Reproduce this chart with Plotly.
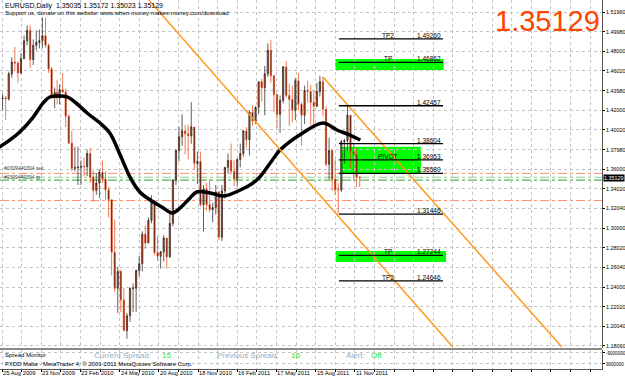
import numpy as np
import pandas as pd
import plotly.graph_objects as go

# ---------------- data ----------------
symbol_header = "EURUSD,Daily  1.35035 1.35172 1.35023 1.35129"
support_text = "Support us, donate on this website: www.when-money-makes-money.com/download"
last_price = 1.35129

week_start = pd.date_range("2009-08-24", periods=118, freq="W-MON")
opens = [1.4320, 1.4325, 1.4315, 1.4570, 1.4690, 1.4680, 1.4580, 1.4725, 1.4906, 1.5012,
         1.4715, 1.4860, 1.4890, 1.4907, 1.4958, 1.4860, 1.4620, 1.4340, 1.4380, 1.4325,
         1.4410, 1.4385, 1.4140, 1.3865, 1.3610, 1.3615, 1.3620, 1.3630, 1.3625, 1.3760,
         1.3520, 1.3385, 1.3460, 1.3570, 1.3500, 1.3390, 1.3290, 1.2755, 1.2390, 1.2560,
         1.2270, 1.1960, 1.2110, 1.2390, 1.2390, 1.2570, 1.2640, 1.2940, 1.2850, 1.3080,
         1.3280, 1.2750, 1.2715, 1.2760, 1.2900, 1.2710, 1.3050, 1.3490, 1.3790, 1.3930,
         1.3990, 1.3960, 1.3940, 1.4030, 1.3660, 1.3680, 1.3240, 1.3400, 1.3240, 1.3190,
         1.3210, 1.3370, 1.2910, 1.3380, 1.3620, 1.3690, 1.3580, 1.3500, 1.3700, 1.3760,
         1.3990, 1.3900, 1.4180, 1.4090, 1.4230, 1.4490, 1.4430, 1.4570, 1.4810, 1.4550,
         1.4360, 1.4160, 1.4300, 1.4640, 1.4350, 1.4310, 1.4200, 1.4500, 1.4260, 1.4150,
         1.4400, 1.4390, 1.4280, 1.4240, 1.4390, 1.4490, 1.4210, 1.3650, 1.3790, 1.3500,
         1.3390, 1.3390, 1.3880, 1.3890, 1.4150, 1.3780, 1.3750, 1.3520]
highs = [1.4370, 1.4345, 1.4590, 1.4740, 1.4844, 1.4700, 1.4780, 1.4960, 1.5062, 1.5065,
         1.4920, 1.5010, 1.5020, 1.5144, 1.5140, 1.4880, 1.4640, 1.4430, 1.4510, 1.4460,
         1.4580, 1.4420, 1.4160, 1.3990, 1.3830, 1.3830, 1.3690, 1.3720, 1.3800, 1.3820,
         1.3590, 1.3560, 1.3600, 1.3690, 1.3580, 1.3420, 1.3290, 1.3090, 1.2610, 1.2580,
         1.2390, 1.2140, 1.2400, 1.2440, 1.2580, 1.2720, 1.2970, 1.3030, 1.3110, 1.3335,
         1.3280, 1.2920, 1.2770, 1.2930, 1.2900, 1.3160, 1.3500, 1.3800, 1.4030, 1.4160,
         1.4050, 1.4050, 1.4282, 1.4030, 1.3780, 1.3780, 1.3440, 1.3460, 1.3500, 1.3260,
         1.3440, 1.3380, 1.3440, 1.3620, 1.3760, 1.3862, 1.3690, 1.3710, 1.3860, 1.4000,
         1.4030, 1.4200, 1.4250, 1.4240, 1.4490, 1.4520, 1.4650, 1.4880, 1.4918, 1.4560,
         1.4370, 1.4350, 1.4650, 1.4700, 1.4470, 1.4450, 1.4530, 1.4580, 1.4280, 1.4450,
         1.4500, 1.4460, 1.4400, 1.4480, 1.4550, 1.4538, 1.4240, 1.3920, 1.3800, 1.3700,
         1.3460, 1.3900, 1.3910, 1.4246, 1.4150, 1.3860, 1.3820, 1.3535]
lows = [1.4200, 1.4100, 1.4300, 1.4530, 1.4600, 1.4480, 1.4570, 1.4720, 1.4860, 1.4630,
        1.4660, 1.4810, 1.4830, 1.4830, 1.4835, 1.4580, 1.4320, 1.4220, 1.4260, 1.4260,
        1.4380, 1.4030, 1.3860, 1.3580, 1.3580, 1.3440, 1.3440, 1.3530, 1.3530, 1.3460,
        1.3270, 1.3340, 1.3310, 1.3460, 1.3290, 1.3110, 1.2520, 1.2350, 1.2140, 1.2150,
        1.1950, 1.1876, 1.2050, 1.2150, 1.2150, 1.2510, 1.2560, 1.2790, 1.2850, 1.3050,
        1.2730, 1.2670, 1.2590, 1.2660, 1.2590, 1.2700, 1.3020, 1.3440, 1.3680, 1.3840,
        1.3750, 1.3700, 1.3860, 1.3600, 1.3450, 1.3220, 1.2969, 1.3180, 1.3160, 1.3060,
        1.3140, 1.2880, 1.2870, 1.3300, 1.3560, 1.3550, 1.3430, 1.3430, 1.3620, 1.3730,
        1.3820, 1.3740, 1.4040, 1.4060, 1.4160, 1.4290, 1.4150, 1.4540, 1.4480, 1.4180,
        1.4020, 1.3970, 1.4270, 1.4330, 1.4040, 1.4080, 1.4100, 1.4200, 1.3840, 1.4060,
        1.4280, 1.4050, 1.4040, 1.4230, 1.4340, 1.4140, 1.3630, 1.3500, 1.3380, 1.3340,
        1.3146, 1.3370, 1.3660, 1.3790, 1.3610, 1.3480, 1.3420, 1.3420]
closes = [1.4325, 1.4315, 1.4570, 1.4690, 1.4680, 1.4580, 1.4725, 1.4906, 1.5012, 1.4715,
          1.4860, 1.4890, 1.4907, 1.4958, 1.4860, 1.4620, 1.4340, 1.4380, 1.4325, 1.4410,
          1.4385, 1.4140, 1.3865, 1.3610, 1.3615, 1.3620, 1.3630, 1.3625, 1.3760, 1.3520,
          1.3385, 1.3460, 1.3570, 1.3500, 1.3390, 1.3290, 1.2755, 1.2390, 1.2560, 1.2270,
          1.1960, 1.2110, 1.2390, 1.2390, 1.2570, 1.2640, 1.2940, 1.2850, 1.3080, 1.3280,
          1.2750, 1.2715, 1.2760, 1.2900, 1.2710, 1.3050, 1.3490, 1.3790, 1.3930, 1.3990,
          1.3960, 1.3940, 1.4030, 1.3660, 1.3680, 1.3240, 1.3400, 1.3240, 1.3190, 1.3210,
          1.3370, 1.2910, 1.3380, 1.3620, 1.3690, 1.3580, 1.3500, 1.3700, 1.3760, 1.3990,
          1.3900, 1.4180, 1.4090, 1.4230, 1.4490, 1.4430, 1.4570, 1.4810, 1.4550, 1.4360,
          1.4160, 1.4300, 1.4640, 1.4350, 1.4310, 1.4200, 1.4500, 1.4260, 1.4150, 1.4400,
          1.4390, 1.4280, 1.4240, 1.4390, 1.4490, 1.4210, 1.3650, 1.3790, 1.3500, 1.3390,
          1.3390, 1.3880, 1.3890, 1.4150, 1.3780, 1.3750, 1.3520, 1.35129]

# moving average (bar number, price)
ma_bars = [-4, 13, 29, 51, 67, 78, 95, 106, 119, 139, 160, 176, 193, 209, 225, 242,
           261, 278, 287, 296, 307, 318, 340, 361, 389, 416, 438, 454, 491, 524, 547, 568, 585]
ma_values = [1.3826, 1.3898, 1.3979, 1.4131, 1.4273, 1.4335, 1.4345, 1.4335, 1.4284, 1.4172,
             1.4070, 1.3969, 1.3745, 1.3521, 1.3369, 1.3288, 1.3216, 1.3155, 1.3186, 1.3237,
             1.3308, 1.3369, 1.3359, 1.3328, 1.3389, 1.3491, 1.3664, 1.3796, 1.3969, 1.4070,
             1.3999, 1.3948, 1.3898]

# trend lines (bar, price) anchors
trend1_bars = [240, 736]
trend1_prices = [1.5321, 1.1793]
trend2_bars = [524, 914]
trend2_prices = [1.4538, 1.1793]

# pivot levels
level_prices = [1.49260, 1.46862, 1.42457, 1.38604, 1.36953, 1.35580, 1.31446, 1.27244, 1.24646]
level_names = ["TP2", "TP", "", "", "PIVOT", "", "", "TP", "TP2"]
level_text = ["1.49260", "1.46862", "1.42457", "1.38604", "1.36953", "1.35580", "1.31446", "1.27244", "1.24646"]

# order lines
order_prices = [1.3558, 1.3519, 1.3490, 1.3282]
order_colors = ["#FF9070", "#8FCF8F", "#2EA02E", "#FF9070"]
order_labels = ["#0309440304 sell", "#0309440304 tp"]

# axis labels
price_ticks = [1.51960, 1.49980, 1.48000, 1.46020, 1.43980, 1.42000, 1.40020, 1.37980, 1.36000,
               1.34020, 1.32040, 1.30000, 1.28020, 1.26040, 1.24000, 1.22020, 1.20040, 1.18060]
date_ticks = ["2009-08-25", "2009-11-23", "2010-02-23", "2010-05-24", "2010-08-20",
              "2010-11-18", "2011-02-16", "2011-05-17", "2011-08-15", "2011-11-11"]
date_labels = ["25 Aug 2009", "23 Nov 2009", "23 Feb 2010", "24 May 2010", "20 Aug 2010",
               "18 Nov 2010", "16 Feb 2011", "17 May 2011", "15 Aug 2011", "11 Nov 2011"]

current_spread = "15"
previous_spread = "16"
alert_state = "Off"

# ---------------- helpers ----------------
holidays = ["2009-12-25", "2010-01-01"]
first_bar = "2009-08-25"


def bar_of(d):
    return int(np.busday_count(first_bar, pd.Timestamp(d).strftime("%Y-%m-%d"), holidays=holidays))


week_x = [bar_of(d) + 2 for d in week_start]
date_tick_x = [bar_of(d) for d in date_ticks]

FONT = "Liberation Sans"
W, H = 625, 379
ML, MR, MT, MB = 0, 23, 0, 10
PW = W - ML - MR
PH = H - MT - MB
main_bottom_px = 348
sub_top_px = 350
main_dom = [(PH - main_bottom_px) / PH, 1]
sub_dom = [0, (PH - sub_top_px) / PH]
px_per_bar = 0.6125
xr = [-2 / px_per_bar, (PW - 2) / px_per_bar]
yr = [1.5196 - (main_bottom_px - 12.3) / 983.5, 1.5196 + 12.3 / 983.5]

fig = go.Figure()

# green rectangles
rects = [(544, 721, 1.4609, 1.4721), (553, 684, 1.3558, 1.3829), (545, 725, 1.2657, 1.2769)]
for x0, x1, y0, y1 in rects:
    fig.add_shape(type="rect", xref="x", yref="y", x0=x0, x1=x1, y0=y0, y1=y1,
                  fillcolor="#00FF00", line=dict(width=0), layer="below")

# order lines (full width dash-dot)
for p, c in zip(order_prices, order_colors):
    fig.add_shape(type="line", xref="paper", yref="y", x0=0, x1=1, y0=p, y1=p,
                  line=dict(color=c, width=1, dash="dashdot"), layer="below")

# candles
fig.add_trace(go.Candlestick(
    x=week_x, open=opens, high=highs, low=lows, close=closes,
    increasing=dict(line=dict(color="#1A1A1A", width=0.7), fillcolor="#FF4A14"),
    decreasing=dict(line=dict(color="#E8400C", width=0.7), fillcolor="#141414"),
    whiskerwidth=0, showlegend=False, hoverinfo="skip", yaxis="y", xaxis="x"))

# moving average
fig.add_trace(go.Scatter(x=ma_bars, y=ma_values, mode="lines",
                         line=dict(color="black", width=3.5, shape="spline", smoothing=1.0),
                         showlegend=False, hoverinfo="skip", yaxis="y", xaxis="x"))

# trend lines
for bx, py in [(trend1_bars, trend1_prices), (trend2_bars, trend2_prices)]:
    fig.add_trace(go.Scatter(x=bx, y=py, mode="lines", line=dict(color="#FF9A1E", width=1.5),
                             showlegend=False, hoverinfo="skip", yaxis="y", xaxis="x"))

# level lines + labels
for p, name, txt in zip(level_prices, level_names, level_text):
    fig.add_trace(go.Scatter(x=[550, 720], y=[p, p], mode="lines", line=dict(color="black", width=1.3),
                             showlegend=False, hoverinfo="skip", yaxis="y", xaxis="x"))
    if name:
        fig.add_annotation(x=630, y=p, xref="x", yref="y", text=name, showarrow=False,
                           xanchor="center", yanchor="bottom", yshift=-2,
                           font=dict(family=FONT, size=6.5, color="black"))
    fig.add_annotation(x=720, y=p, xref="x", yref="y", text=txt, showarrow=False,
                       xanchor="right", yanchor="bottom", yshift=-2,
                       font=dict(family=FONT, size=6.5, color="black"))

# order labels
for p, t, ys in zip(order_prices[:2], order_labels, [1, -4]):
    fig.add_annotation(x=3 / PW, y=p, xref="paper", yref="y", text=t, showarrow=False,
                       xanchor="left", yanchor="bottom", yshift=ys, borderpad=0,
                       font=dict(family=FONT, size=5, color="#404040"))

# sub panel dummy trace
fig.add_trace(go.Scatter(x=[0], y=[0], mode="markers", marker=dict(opacity=0),
                         showlegend=False, hoverinfo="skip", xaxis="x", yaxis="y2"))

# header texts
fig.add_annotation(x=3 / PW, y=1, xref="paper", yref="paper", text=symbol_header, showarrow=False,
                   xanchor="left", yanchor="top", yshift=0, font=dict(family=FONT, size=7, color="black"))
fig.add_annotation(x=3 / PW, y=1, xref="paper", yref="paper", text=support_text, showarrow=False,
                   xanchor="left", yanchor="top", yshift=-8, font=dict(family=FONT, size=6, color="black"))

# big price
fig.add_annotation(x=1, y=1, xref="paper", yref="paper", text=f"{last_price:.5f}", showarrow=False,
                   xanchor="right", yanchor="top", xshift=0, yshift=-3,
                   font=dict(family=FONT, size=29, color="#FF4500"))

# current price label on axis
fig.add_annotation(x=1, y=last_price, xref="paper", yref="y", text=f"{last_price:.5f}", showarrow=False,
                   xanchor="left", yanchor="middle", xshift=1, bgcolor="black", borderpad=0,
                   font=dict(family=FONT, size=5.4, color="white"))

# sub-panel texts
def sub_text(xpx, ypx, text, color, size):
    fig.add_annotation(x=xpx / PW, y=(PH - ypx) / PH, xref="paper", yref="paper", text=text,
                       showarrow=False, xanchor="left", yanchor="middle",
                       font=dict(family=FONT, size=size, color=color))

sub_text(3, 355, "Spread Monitor", "black", 6)
sub_text(3, 364, "FXDD Malta - MetaTrader 4, © 2001-2011 MetaQuotes Software Corp.", "black", 6)
sub_text(92, 355, "Current Spread:", "#93AEBF", 8)
sub_text(160, 355, current_spread, "#22EE22", 8)
sub_text(215, 355, "Previous Spread:", "#93AEBF", 8)
sub_text(289, 355, previous_spread, "#22EE22", 8)
sub_text(344, 355, "Alert:", "#93AEBF", 8)
sub_text(369, 355, alert_state, "#22EE22", 8)

# date labels
for bx, lab in zip(date_tick_x, date_labels):
    fig.add_annotation(x=bx, y=0, xref="x", yref="paper", text=lab, showarrow=False,
                       xanchor="left", yanchor="top", xshift=-1, yshift=1,
                       font=dict(family=FONT, size=5.8, color="black"))

# separator between panels
fig.add_shape(type="rect", xref="paper", yref="paper", x0=0, x1=1,
              y0=(PH - sub_top_px) / PH, y1=(PH - main_bottom_px) / PH,
              fillcolor="#8A8A8A", line=dict(width=0))

grid_x = list(range(0, 961, 32))
common = dict(showgrid=True, gridcolor="#C4C4C4", griddash="dot", gridwidth=1,
              ticks="outside", ticklen=2, tickcolor="black", zeroline=False,
              showline=True, linecolor="#555555", linewidth=1, automargin=False)
fig.update_layout(
    width=W, height=H, margin=dict(l=ML, r=MR, t=MT, b=MB, autoexpand=False),
    paper_bgcolor="white", plot_bgcolor="white",
    xaxis=dict(range=xr, anchor="y2", tickvals=grid_x, ticktext=[""] * len(grid_x),
               rangeslider=dict(visible=False), fixedrange=True, **common),
    yaxis=dict(domain=main_dom, range=yr, side="right", anchor="x", ticklabelstandoff=0,
               tickvals=price_ticks, ticktext=[f"{v:.5f}" for v in price_ticks],
               tickfont=dict(family=FONT, size=5.4, color="black"), **common),
    yaxis2=dict(domain=sub_dom, range=[17.2e6, -13.9e6], side="right", anchor="x", ticklabelstandoff=0,
                tickvals=[-9000000, 9000000], ticktext=["-9000000", "9000000"],
                tickfont=dict(family=FONT, size=4.6, color="black"), **common),
)

fig.write_html("out.html")
